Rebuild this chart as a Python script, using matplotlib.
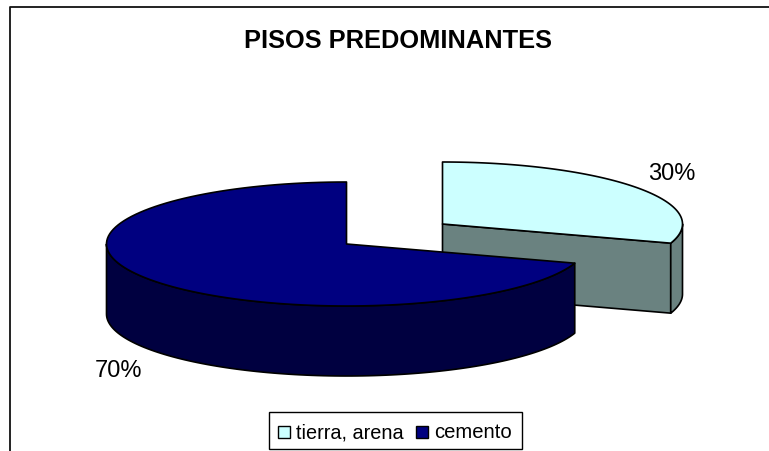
import matplotlib
matplotlib.use('Agg')
import matplotlib.pyplot as plt
from matplotlib.patches import Polygon, Rectangle
import numpy as np

labels = ['tierra, arena', 'cemento']
shares = [30, 70]
top_colors = ['#CCFFFF', '#000080']
cut_color = '#6A8280'
wall_colors = ['#6A8280', '#000040']
title = 'PISOS PREDOMINANTES'

W, H = 769, 452
rx, ry, depth = 240, 62, 70
centers = {'tierra, arena': (442.5, 225), 'cemento': (346.5, 245)}

plt.rcParams['font.family'] = ['Liberation Sans', 'DejaVu Sans']

fig = plt.figure(figsize=(W / 100, H / 100), dpi=100)
ax = fig.add_axes([0, 0, 1, 1])
ax.set_xlim(0, W)
ax.set_ylim(H, 0)
ax.axis('off')


def rim(c, a0, a1):
    # points on the ellipse, angles in degrees, 0 = right, ccw on screen
    t = np.radians(np.linspace(a0, a1, 120))
    return np.column_stack([c[0] + rx * np.cos(t), c[1] - ry * np.sin(t)])


def draw_face(pts, color, z):
    ax.add_patch(Polygon(pts, closed=True, fc=color, ec='black', lw=1.2, zorder=z, joinstyle='round'))


def drop(pts):
    return pts + np.array([0, depth])


# slices run clockwise from 12 o'clock, first one ends where the second starts
split = 90 - shares[0] / sum(shares) * 360

# light slice
c = centers[labels[0]]
cut_pt = rim(c, split, split)[0]
draw_face(np.array([c, cut_pt, cut_pt + [0, depth], np.array(c) + [0, depth]]), cut_color, 2)
arc = rim(c, split, 0)
draw_face(np.vstack([arc, drop(arc)[::-1]]), wall_colors[0], 2)
draw_face(np.vstack([[c], rim(c, split, 90)]), top_colors[0], 3)

# dark slice
c = centers[labels[1]]
arc = rim(c, 180, 360 + split)
draw_face(np.vstack([arc, drop(arc)[::-1]]), wall_colors[1], 4)
draw_face(np.vstack([[c], rim(c, 90, 360 + split)]), top_colors[1], 5)

# chart frame, only top and left edges are inside the image
ax.plot([10, 10, W], [H, 8, 8], color='#111111', lw=1.3, zorder=1)

ax.text(398, 41, title, ha='center', va='center', fontsize=18.3, fontweight='bold', color='black')
ax.text(672, 174, '%d%%' % shares[0], ha='center', va='center', fontsize=17, color='black')
ax.text(119, 371, '%d%%' % shares[1], ha='center', va='center', fontsize=17, color='black')

# legend
ax.add_patch(Rectangle((269, 413), 253, 37, fc='white', ec='black', lw=1.0, zorder=6))
ax.add_patch(Rectangle((278, 426.5), 12, 12, fc=top_colors[0], ec='black', lw=1.0, zorder=7))
ax.text(296, 433, labels[0], ha='left', va='center', fontsize=14.3, color='black', zorder=7)
ax.add_patch(Rectangle((415.5, 426.5), 12, 12, fc=top_colors[1], ec='black', lw=1.0, zorder=7))
ax.text(434, 433, labels[1], ha='left', va='center', fontsize=14.6, color='black', zorder=7)

fig.savefig('out.png', dpi=100)
